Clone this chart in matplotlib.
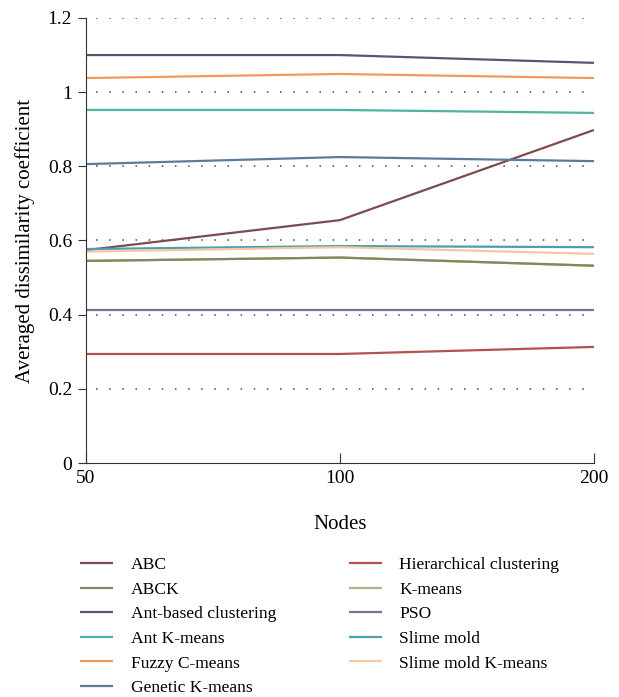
import matplotlib.pyplot as plt
import numpy as np

plt.rcParams['font.family'] = ['Liberation Serif', 'DejaVu Serif']

nodes = ["50", "100", "200"]

abc = [0.574, 0.655, 0.898]
abck = [0.545, 0.554, 0.532]
ant_based = [1.100, 1.100, 1.079]
ant_kmeans = [0.952, 0.952, 0.944]
fuzzy_cmeans = [1.038, 1.049, 1.038]
genetic_kmeans = [0.806, 0.825, 0.814]
hierarchical = [0.294, 0.294, 0.313]
kmeans = [0.545, 0.554, 0.532]
pso = [0.413, 0.413, 0.413]
slime_mold = [0.577, 0.585, 0.582]
slime_mold_kmeans = [0.570, 0.582, 0.564]

series = [
    ("ABC", abc, "#7d4b50"),
    ("ABCK", abck, "#7b8b5d"),
    ("Ant-based clustering", ant_based, "#585572"),
    ("Ant K-means", ant_kmeans, "#4fb3a2"),
    ("Fuzzy C-means", fuzzy_cmeans, "#f09a5c"),
    ("Genetic K-means", genetic_kmeans, "#5b7b9b"),
    ("Hierarchical clustering", hierarchical, "#b4524f"),
    ("K-means", kmeans, "#a5b97d"),
    ("PSO", pso, "#7b7098"),
    ("Slime mold", slime_mold, "#4c9fb3"),
    ("Slime mold K-means", slime_mold_kmeans, "#f6c7a0"),
]

fig = plt.figure(figsize=(6.19, 6.97), dpi=100)
ax = fig.add_axes([0.139, 0.3357, 0.8206, 0.6385])

x = np.arange(len(nodes))
# draw K-means first so ABCK sits on top like in the reference
order = [7] + [i for i in range(len(series)) if i != 7]
handles = {}
for i in order:
    name, vals, col = series[i]
    h, = ax.plot(x, vals, color=col, lw=1.6, label=name, solid_capstyle='butt')
    handles[i] = h

ax.set_xlim(0, 2)
ax.set_ylim(0, 1.2)
ax.set_xticks(x)
ax.set_xticklabels(nodes)
ax.set_yticks([0, 0.2, 0.4, 0.6, 0.8, 1.0, 1.2])
ax.set_yticklabels(["0", "0.2", "0.4", "0.6", "0.8", "1", "1.2"])

for yv in [0.2, 0.4, 0.6, 0.8, 1.0, 1.2]:
    ax.axhline(yv, color="#444444", lw=1.1, linestyle=(2, (1, 7.6)), zorder=0.5)

ax.spines['top'].set_visible(False)
ax.spines['right'].set_visible(False)
ax.spines['left'].set_color("#333333")
ax.spines['bottom'].set_color("#333333")
ax.tick_params(axis='y', direction='out', length=6, labelsize=14, color="#333333", pad=4)
ax.tick_params(axis='x', direction='in', length=7, labelsize=14, color="#333333", pad=5)

ax.set_xlabel("Nodes", fontsize=15, labelpad=20)
ax.set_ylabel("Averaged dissimilarity coefficient", fontsize=15, labelpad=9)

leg = fig.legend([handles[i] for i in range(len(series))],
                 [s[0] for s in series],
                 ncol=2, loc='upper left', bbox_to_anchor=(0.1035, 0.2238),
                 frameon=False, fontsize=12.6, handlelength=1.9,
                 handletextpad=1.0, columnspacing=4.15, labelspacing=0.48)

fig.savefig("out.png", dpi=100)
